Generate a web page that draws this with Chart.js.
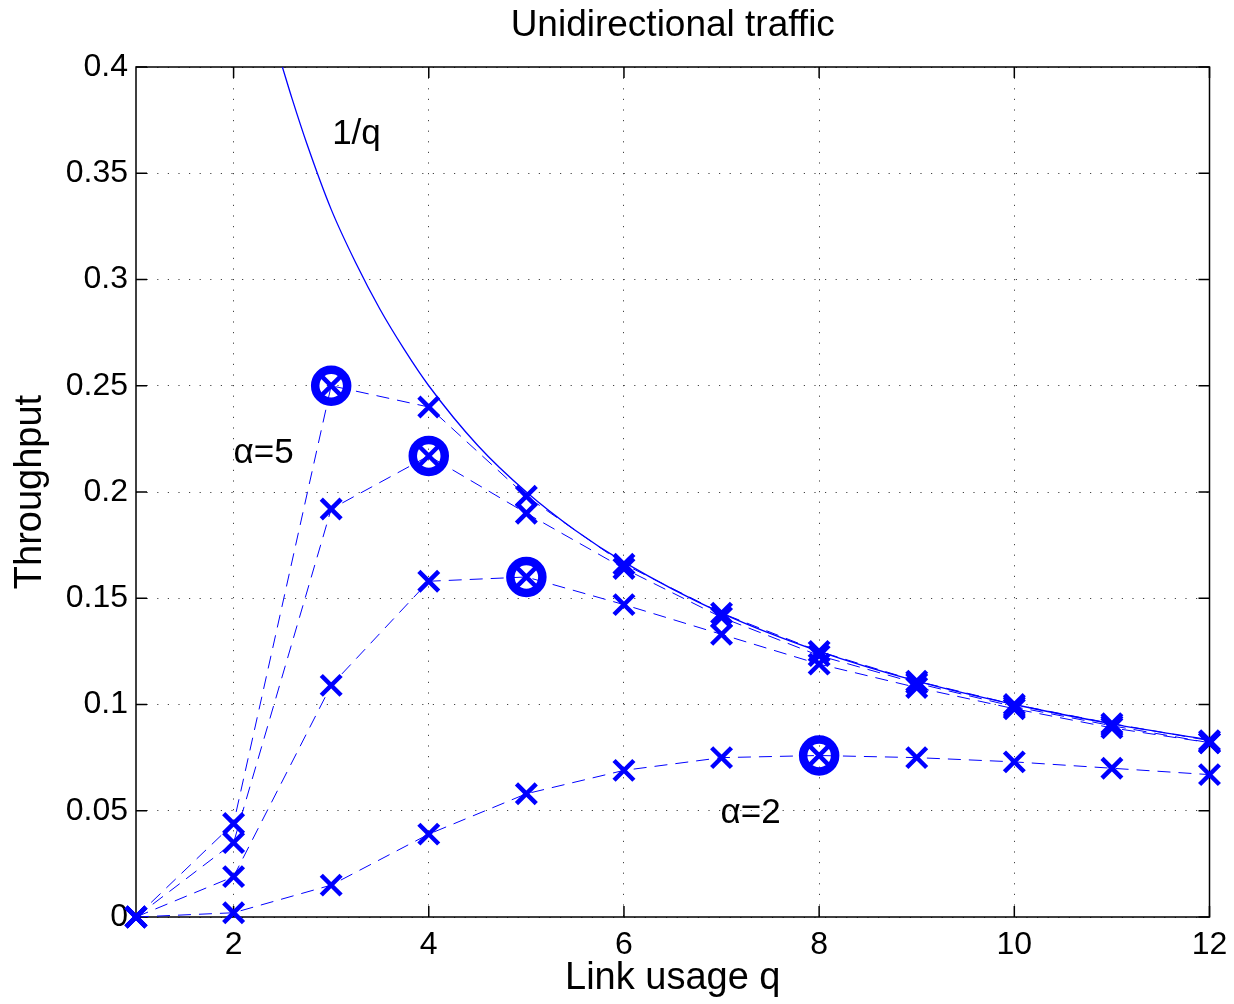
<!DOCTYPE html>
<html>
<head>
<meta charset="utf-8">
<title>Unidirectional traffic</title>
<script src="https://cdn.jsdelivr.net/npm/chart.js@4.4.1/dist/chart.umd.min.js"></script>
<style>
  body { margin: 0; background: #fff; }
</style>
</head>
<body>
<canvas id="throughput-chart" width="1234" height="1004"></canvas>
<script>
// values
const linkUsage = [1, 2, 3, 4, 5, 6, 7, 8, 9, 10, 11, 12];
const alpha5 = [0, 0.044, 0.25, 0.24, 0.198, 0.166, 0.143, 0.125, 0.111, 0.1, 0.091, 0.083];
const alpha4 = [0, 0.035, 0.192, 0.217, 0.19, 0.164, 0.141, 0.123, 0.11, 0.099, 0.09, 0.082];
const alpha3 = [0, 0.019, 0.109, 0.158, 0.16, 0.147, 0.133, 0.119, 0.108, 0.098, 0.089, 0.082];
const alpha2 = [0, 0.002, 0.015, 0.039, 0.058, 0.069, 0.075, 0.076, 0.075, 0.073, 0.07, 0.067];

// the maxima that carry a circle
const peakQ = [3, 4, 5, 8];
const peakThroughput = [0.25, 0.217, 0.16, 0.076];

// the 1/q bound, sampled off the solid line
const boundQ = [2.5, 2.6, 2.75, 3, 3.25, 3.5, 3.75, 4, 4.5, 5, 5.5, 6, 7, 8, 9, 10, 11, 12];
const boundThroughput = [0.4, 0.385, 0.364, 0.333, 0.308, 0.286, 0.267, 0.25, 0.222, 0.2, 0.182, 0.167, 0.143, 0.125, 0.111, 0.1, 0.0909, 0.0833];

const xTicks = [2, 4, 6, 8, 10, 12];
const yTicks = [0, 0.05, 0.1, 0.15, 0.2, 0.25, 0.3, 0.35, 0.4];

const blue = "#0000ff";
const font = "'Liberation Sans', Arial, Helvetica, sans-serif";
Chart.defaults.font.family = font;
Chart.defaults.color = "#000";

const toPoints = (xs, ys) => xs.map((x, i) => ({x: x, y: ys[i]}));

const seriesDataset = values => ({
    data: toPoints(linkUsage, values),
    showLine: true,
    borderColor: blue,
    borderWidth: 1,
    borderDash: [13, 8],
    pointStyle: "crossRot",
    pointRadius: 14,
    pointBorderWidth: 4.5,
    pointBorderColor: blue,
    pointBackgroundColor: "transparent",
    clip: false
});

//frame, inward tick marks and the text labels inside the plot
const matlabAxes = {
    id: "matlabAxes",
    beforeDatasetsDraw(chart){
        const {ctx, chartArea: a, scales: {x, y}} = chart;
        ctx.save();
        ctx.strokeStyle = "#000";
        ctx.lineWidth = 1.5;
        ctx.strokeRect(a.left, a.top, a.right - a.left, a.bottom - a.top);
        ctx.beginPath();
        xTicks.forEach(v =>{
            const px = x.getPixelForValue(v);
            ctx.moveTo(px, a.bottom); ctx.lineTo(px, a.bottom - 11);
            ctx.moveTo(px, a.top); ctx.lineTo(px, a.top + 11);
        });
        yTicks.forEach(v =>{
            const py = y.getPixelForValue(v);
            ctx.moveTo(a.left, py); ctx.lineTo(a.left + 11, py);
            ctx.moveTo(a.right, py); ctx.lineTo(a.right - 11, py);
        });
        ctx.stroke();
        ctx.restore();
    },
    afterDatasetsDraw(chart){
        const {ctx, scales: {x, y}} = chart;
        ctx.save();
        ctx.fillStyle = "#000";
        ctx.font = "35px " + font;
        ctx.textAlign = "left";
        ctx.textBaseline = "alphabetic";
        ctx.fillText("1/q", x.getPixelForValue(3.01), y.getPixelForValue(0.364));
        ctx.fillText("\u03b1=5", x.getPixelForValue(2.0), y.getPixelForValue(0.2135));
        ctx.fillText("\u03b1=2", x.getPixelForValue(6.99), y.getPixelForValue(0.0442));
        ctx.restore();
    }
};

new Chart("throughput-chart", {
    type: "scatter",
    data: {
        datasets: [
            seriesDataset(alpha5),
            seriesDataset(alpha4),
            seriesDataset(alpha3),
            seriesDataset(alpha2),
            {
                data: toPoints(peakQ, peakThroughput),
                showLine: false,
                pointStyle: "circle",
                pointRadius: 16,
                pointBorderWidth: 8.5,
                pointBorderColor: blue,
                pointBackgroundColor: "transparent",
                clip: false
            },
            {
                data: toPoints(boundQ, boundThroughput),
                showLine: true,
                borderColor: blue,
                borderWidth: 1.3,
                cubicInterpolationMode: "monotone",
                pointRadius: 0
            }
        ]
    },
    plugins: [matlabAxes],
    options: {
        responsive: false,
        animation: false,
        events: [],
        layout: {padding: {left: 8, right: 19, top: 0, bottom: 3}},
        plugins: {
            legend: {display: false},
            tooltip: {enabled: false},
            title: {
                display: true,
                fullSize: false,
                text: "Unidirectional traffic",
                color: "#000",
                font: {size: 37, weight: "normal"},
                padding: {top: 4, bottom: 18.6}
            }
        },
        scales: {
            x: {
                type: "linear",
                min: 1,
                max: 12,
                afterBuildTicks: s =>{ s.ticks = xTicks.map(v => ({value: v})); },
                afterFit: s =>{ s.height = 84; s.paddingLeft = 0; s.paddingRight = 0; },
                ticks: {
                    font: {size: 32},
                    padding: 9,
                    maxRotation: 0,
                    autoSkip: false,
                    callback: v => String(v)
                },
                grid: {color: "#444", lineWidth: 1, drawTicks: false},
                border: {display: false, dash: [1.2, 9.4]},
                title: {display: true, text: "Link usage q", font: {size: 38}, padding: 0}
            },
            y: {
                type: "linear",
                min: 0,
                max: 0.4,
                afterBuildTicks: s =>{ s.ticks = yTicks.map(v => ({value: v})); },
                afterFit: s =>{ s.width = 128; s.paddingTop = 0; s.paddingBottom = 0; },
                ticks: {
                    font: {size: 32},
                    padding: 8,
                    autoSkip: false,
                    callback: v => String(v)
                },
                grid: {color: "#444", lineWidth: 1, drawTicks: false},
                border: {display: false, dash: [1.2, 9.4]},
                title: {display: true, text: "Throughput", font: {size: 38}, padding: 0}
            }
        }
    }
});
</script>
</body>
</html>
